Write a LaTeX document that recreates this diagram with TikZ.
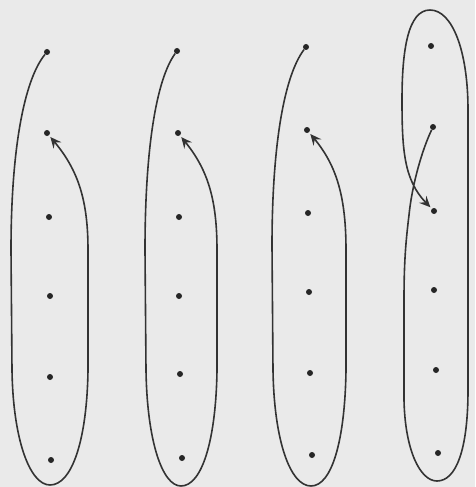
\documentclass[tikz,border=0pt]{standalone}
\usetikzlibrary{arrows.meta}

\tikzset{
  pt/.style={circle,fill=black!85,inner sep=0pt,minimum size=6pt},
  loopline/.style={line width=1.6pt,draw=black!80},
  tip/.style={-{Stealth[length=11pt,width=10pt,inset=4pt]},shorten >=2pt}
}

\begin{document}
\begin{tikzpicture}[x=1pt,y=1pt,yscale=-1,xscale=1]
\useasboundingbox[fill={rgb,255:red,234;green,234;blue,234}] (0,0) rectangle (475,487);

%Points: first column
\node[pt] (a1) at (47,52) {};
\node[pt] (a2) at (47,133) {};
\node[pt] (a3) at (49,217) {};
\node[pt] (a4) at (50,296) {};
\node[pt] (a5) at (50,377) {};
\node[pt] (a6) at (51,460) {};
%Points: second column
\node[pt] (b1) at (177,51) {};
\node[pt] (b2) at (178,133) {};
\node[pt] (b3) at (179,217) {};
\node[pt] (b4) at (179,296) {};
\node[pt] (b5) at (180,374) {};
\node[pt] (b6) at (182,458) {};
%Points: third column
\node[pt] (c1) at (306,47) {};
\node[pt] (c2) at (307,130) {};
\node[pt] (c3) at (308,213) {};
\node[pt] (c4) at (309,292) {};
\node[pt] (c5) at (310,373) {};
\node[pt] (c6) at (312,455) {};
%Points: fourth column
\node[pt] (d1) at (431,46) {};
\node[pt] (d2) at (433,127) {};
\node[pt] (d3) at (434,211) {};
\node[pt] (d4) at (434,290) {};
\node[pt] (d5) at (436,370) {};
\node[pt] (d6) at (438,453) {};

%Curve Lines: first column
\draw [loopline,tip] (a1) .. controls (24,80) and (11,150) .. (11,250) -- (12,370)
  .. controls (13,440) and (30,485) .. (50,485) .. controls (72,485) and (87,440) .. (88,370)
  -- (88,250) .. controls (88,200) and (78,170) .. (a2);
%Curve Lines: second column
\draw [loopline,tip] (b1) .. controls (156,80) and (145,150) .. (145,250) -- (146,370)
  .. controls (147,440) and (162,486) .. (181,486) .. controls (202,486) and (216,440) .. (217,370)
  -- (217,250) .. controls (217,200) and (208,170) .. (b2);
%Curve Lines: third column
\draw [loopline,tip] (c1) .. controls (284,76) and (272,146) .. (272,246) -- (273,370)
  .. controls (274,440) and (290,486) .. (311,486) .. controls (332,486) and (345,440) .. (346,370)
  -- (346,250) .. controls (346,198) and (337,166) .. (c2);
%Curve Lines: fourth column
\draw [loopline,tip] (d2) .. controls (422,150) and (412,185) .. (409,215)
  .. controls (406,240) and (404,260) .. (404,300) -- (404,400)
  .. controls (405,450) and (420,481) .. (437,481) .. controls (456,481) and (468,450) .. (468,390)
  -- (468,110) .. controls (468,50) and (452,10) .. (430,10)
  .. controls (408,10) and (402,50) .. (402,100) .. controls (402,150) and (404,180) .. (d3);

\end{tikzpicture}
\end{document}
